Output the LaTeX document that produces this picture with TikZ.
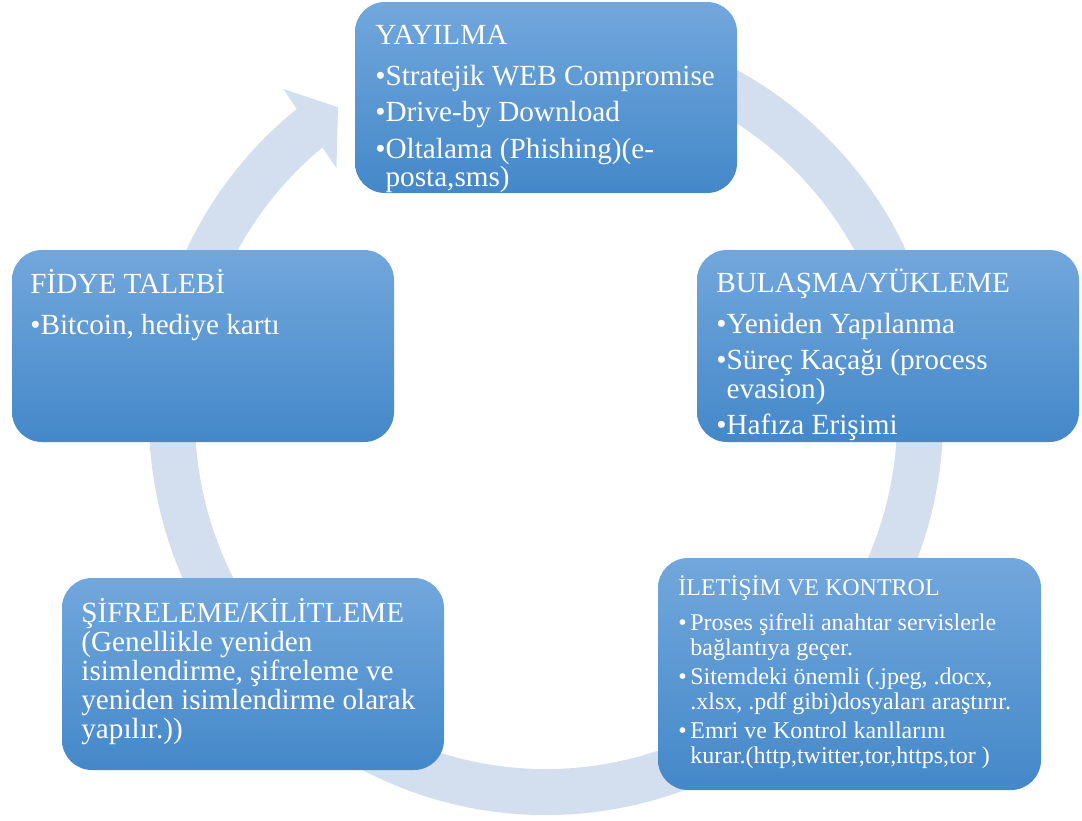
\documentclass[tikz,border=0pt]{standalone}
\usepackage{fontspec}
\setmainfont{Liberation Serif}
\usetikzlibrary{calc}
\definecolor{ringc}{RGB}{211,222,239}
\definecolor{btop}{RGB}{114,167,220}
\definecolor{bbot}{RGB}{68,136,201}
\newcommand\bp[2]{\hbox{\hbox to #1{\char"2022\hss}#2}}
\newcommand\cp[2]{\hbox{\hskip #1\relax #2}}
\newcommand\mainfs{\fontsize{14.6pt}{14.25pt}\selectfont}
\newcommand\smallfs{\fontsize{12pt}{12.5pt}\selectfont}
\begin{document}
\begin{tikzpicture}[x=0.5pt,y=-0.5pt,
  boxc/.style={rounded corners=15pt, top color=btop, bottom color=bbot, draw=none, inner sep=0pt},
  txt/.style={text=white, inner sep=0pt, anchor=base west}]
\useasboundingbox (0,0) rectangle (1082,820);
% cycle arrow
\coordinate (c) at (546,418);
\draw[ringc, line width=23pt] ($(c)+(-100:374)$) arc[start angle=-100, end angle=231.5, radius=374];
\coordinate (h1) at ($(c)+(-128.6:421)$);
\coordinate (h2) at ($(c)+(-123.8:374)$);
\coordinate (h3) at ($(c)+(-130:326)$);
\fill[ringc] (h1) -- (h2) -- (h3) -- cycle;
% boxes
\node[boxc, minimum width=191pt, minimum height=95.5pt] (yay) at (546,97.5) {};
\node[boxc, minimum width=191pt, minimum height=96pt] (bul) at (888,346) {};
\node[boxc, minimum width=191.5pt, minimum height=116pt] (ilet) at (849.5,674) {};
\node[boxc, minimum width=191pt, minimum height=96pt] (sif) at (253,674) {};
\node[boxc, minimum width=191pt, minimum height=96pt] (fid) at (203,346) {};
% texts
\node[txt] (yayt) at (375,44) {\vtop{\mainfs
  \hbox{YAYILMA}\vskip6.25pt
  \bp{5.1pt}{Stratejik WEB Compromise}\vskip4pt
  \bp{5.1pt}{Drive-by Download}\vskip4pt
  \bp{5.1pt}{Oltalama (Phishing)(e-}
  \cp{5.1pt}{posta,sms)}}};
\node[txt] (bult) at (716,292) {\vtop{\mainfs
  \hbox{BULAŞMA/YÜKLEME}\vskip6.25pt
  \bp{5.1pt}{Yeniden Yapılanma}\vskip4pt
  \bp{5.1pt}{Süreç Kaçağı (process}
  \cp{5.1pt}{evasion)}\vskip4pt
  \bp{5.1pt}{Hafıza Erişimi}}};
\node[txt] (fidt) at (30,293) {\vtop{\mainfs
  \hbox{FİDYE TALEBİ}\vskip6.25pt
  \bp{5.1pt}{Bitcoin, hediye kartı}}};
\node[txt] (sift) at (81,622) {\vtop{\fontsize{14.6pt}{14.5pt}\selectfont
  \hbox{ŞİFRELEME/KİLİTLEME}
  \hbox{(Genellikle yeniden}
  \hbox{isimlendirme, şifreleme ve}
  \hbox{yeniden isimlendirme olarak}
  \hbox{yapılır.))}}};
\node[txt] (iltt) at (678,595) {\vtop{\smallfs
  \hbox{İLETİŞİM VE KONTROL}\vskip5pt
  \bp{6pt}{Proses şifreli anahtar servislerle}
  \cp{6pt}{bağlantıya geçer.}\vskip2pt
  \bp{6pt}{Sitemdeki önemli (.jpeg, .docx,}
  \cp{6pt}{.xlsx, .pdf gibi)dosyaları araştırır.}\vskip2pt
  \bp{6pt}{Emri ve Kontrol kanllarını}
  \cp{6pt}{kurar.(http,twitter,tor,https,tor )}}};
\end{tikzpicture}
\end{document}
